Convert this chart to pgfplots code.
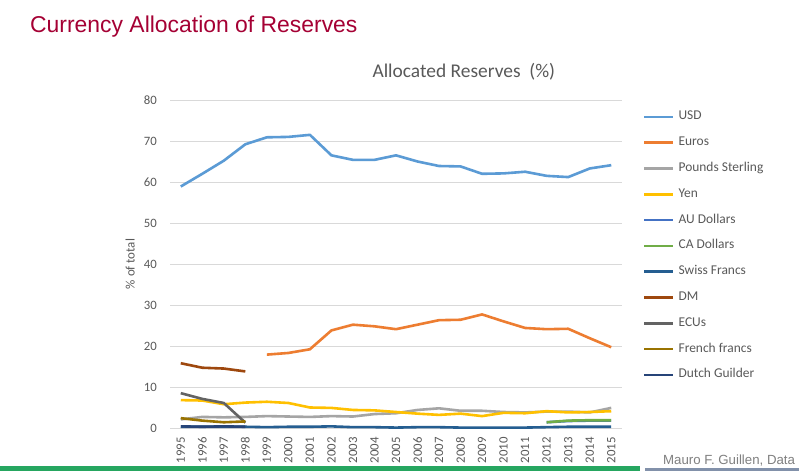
\documentclass[border=0pt]{standalone}
\usepackage{pgfplots}
\pgfplotsset{compat=1.18}
\usepackage{fontspec}
\setmainfont{Carlito}
\newfontfamily\arialfont{Liberation Sans}
\definecolor{titlered}{RGB}{165,0,52}
\definecolor{tickgray}{RGB}{89,89,89}
\definecolor{gridgray}{RGB}{217,217,217}
\definecolor{cUSD}{HTML}{5B9BD5}
\definecolor{cEUR}{HTML}{ED7D31}
\definecolor{cGBP}{HTML}{A5A5A5}
\definecolor{cJPY}{HTML}{FFC000}
\definecolor{cAUD}{HTML}{4472C4}
\definecolor{cCAD}{HTML}{70AD47}
\definecolor{cCHF}{HTML}{255E91}
\definecolor{cDM}{HTML}{9E480E}
\definecolor{cECU}{HTML}{636363}
\definecolor{cFRF}{HTML}{997300}
\definecolor{cNLG}{HTML}{264478}
\definecolor{bandgreen}{RGB}{38,166,96}
\definecolor{bandblue}{RGB}{130,145,170}
\begin{document}
\begin{tikzpicture}
\path[use as bounding box] (0,0) rectangle (799bp,471bp);
\fill[white] (0,0) rectangle (799bp,471bp);
\node[anchor=base west, text=titlered, font=\arialfont\fontsize{23}{27}\selectfont, inner sep=0pt] at (30bp,438bp) {Currency Allocation of Reserves};
\begin{axis}[
  at={(170bp,43bp)}, anchor=south west, scale only axis,
  width=452bp, height=328bp,
  xmin=1994.5, xmax=2015.5, ymin=0, ymax=80,
  xtick={1995,...,2015}, ytick={0,10,...,80},
  /pgf/number format/1000 sep={},
  /pgf/number format/assume math mode=true,
  axis line style={draw=none}, major tick length=0pt,
  ymajorgrids, grid style={gridgray, line width=0.8bp},
  clip=false,
  tick label style={font=\fontsize{12.8}{14}\selectfont, text=tickgray, inner sep=0pt},
  xticklabel style={rotate=90, anchor=east},
  yticklabel style={anchor=east},
  xticklabel shift=9bp,
  yticklabel shift=13bp,
  title={Allocated Reserves\ \ (\%)},
  every axis title/.style={at={(0.65,1)}, anchor=base, yshift=23bp, font=\fontsize{19.5}{22}\selectfont, text=tickgray},
  ylabel={\% of total},
  every axis y label/.style={at={(-0.088,0.5)}, rotate=90, anchor=center, font=\fontsize{13}{15}\selectfont, text=tickgray},
  legend cell align=left,
  legend image code/.code={\draw[#1] (0bp,0bp) -- (29bp,0bp);},
  legend style={at={(1.046,0.555)}, anchor=west, draw=none, fill=none, inner sep=0pt,
    font=\fontsize{13.5}{15}\selectfont, text=tickgray, row sep=13.8bp, column sep=4bp,
    nodes={inner sep=0pt, text height=9bp, text depth=3bp}},
  every axis plot/.append style={line width=2.6bp, line join=round},
]
\addplot[cUSD] coordinates {(1995,58.9)(1996,62.0)(1997,65.2)(1998,69.2)(1999,70.9)(2000,71.0)(2001,71.5)(2002,66.5)(2003,65.4)(2004,65.4)(2005,66.5)(2006,65.0)(2007,63.9)(2008,63.8)(2009,62.0)(2010,62.1)(2011,62.5)(2012,61.5)(2013,61.2)(2014,63.3)(2015,64.1)};
\addlegendentry{USD}
\addplot[cEUR] coordinates {(1999,17.9)(2000,18.3)(2001,19.2)(2002,23.8)(2003,25.2)(2004,24.8)(2005,24.1)(2006,25.2)(2007,26.3)(2008,26.4)(2009,27.7)(2010,26.0)(2011,24.4)(2012,24.1)(2013,24.2)(2014,21.9)(2015,19.7)};
\addlegendentry{Euros}
\addplot[cGBP] coordinates {(1995,2.1)(1996,2.7)(1997,2.6)(1998,2.7)(1999,2.9)(2000,2.8)(2001,2.7)(2002,2.9)(2003,2.8)(2004,3.4)(2005,3.6)(2006,4.4)(2007,4.8)(2008,4.2)(2009,4.2)(2010,3.9)(2011,3.8)(2012,4.0)(2013,4.0)(2014,3.8)(2015,4.9)};
\addlegendentry{Pounds Sterling}
\addplot[cJPY] coordinates {(1995,6.8)(1996,6.7)(1997,5.8)(1998,6.2)(1999,6.4)(2000,6.1)(2001,5.0)(2002,4.9)(2003,4.4)(2004,4.3)(2005,3.9)(2006,3.5)(2007,3.2)(2008,3.5)(2009,2.9)(2010,3.7)(2011,3.6)(2012,4.1)(2013,3.8)(2014,3.9)(2015,4.1)};
\addlegendentry{Yen}
\addplot[cAUD] coordinates {(2012,1.4)(2013,1.7)(2014,1.8)(2015,1.8)};
\addlegendentry{AU Dollars}
\addplot[cCAD] coordinates {(2012,1.4)(2013,1.8)(2014,1.9)(2015,1.9)};
\addlegendentry{CA Dollars}
\addplot[cCHF] coordinates {(1995,0.3)(1996,0.3)(1997,0.3)(1998,0.3)(1999,0.2)(2000,0.3)(2001,0.3)(2002,0.4)(2003,0.2)(2004,0.2)(2005,0.1)(2006,0.2)(2007,0.2)(2008,0.1)(2009,0.1)(2010,0.1)(2011,0.1)(2012,0.2)(2013,0.3)(2014,0.3)(2015,0.3)};
\addlegendentry{Swiss Francs}
\addplot[cDM] coordinates {(1995,15.8)(1996,14.7)(1997,14.5)(1998,13.8)};
\addlegendentry{DM}
\addplot[cECU] coordinates {(1995,8.5)(1996,7.1)(1997,6.1)(1998,1.3)};
\addlegendentry{ECUs}
\addplot[cFRF] coordinates {(1995,2.4)(1996,1.8)(1997,1.4)(1998,1.6)};
\addlegendentry{French francs}
\addplot[cNLG] coordinates {(1995,0.4)(1996,0.3)(1997,0.4)(1998,0.3)};
\addlegendentry{Dutch Guilder}
\end{axis}
\node[anchor=base west, font=\arialfont\fontsize{13.3}{16}\selectfont, text=gray, inner sep=0pt] at (663bp,7bp) {Mauro F. Guillen, Data};
\fill[bandgreen] (0,0) rectangle (640bp,5bp);
\fill[bandblue] (645bp,0) rectangle (799bp,3bp);
\end{tikzpicture}
\end{document}
